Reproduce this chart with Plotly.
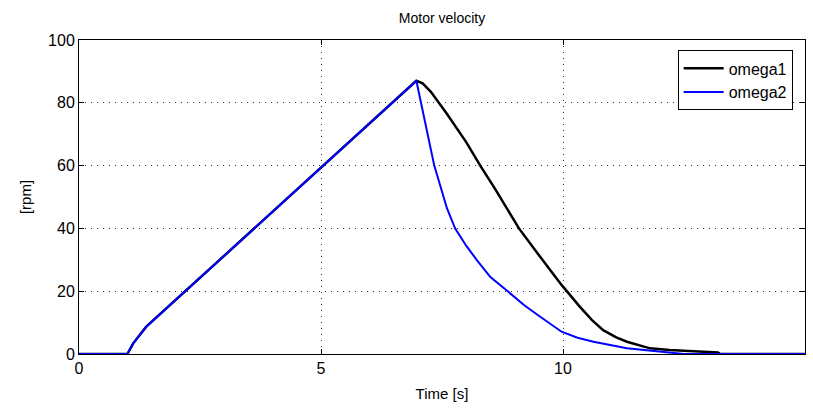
import plotly.graph_objects as go

# omega1 (black)
t1 = [0, 1.0, 1.12, 1.22, 1.39, 6.97, 7.1, 7.27, 7.6, 8.0, 8.29, 8.6, 9.09, 9.5, 9.97, 10.35, 10.6, 10.83, 11.1, 11.32, 11.8, 12.2, 12.6, 13.2, 13.25, 15]
w1 = [0, 0, 3.4, 5.5, 8.7, 87, 86.2, 83.5, 76.5, 67.5, 60, 52.5, 40, 31.5, 22, 15, 10.8, 7.6, 5.3, 3.9, 1.8, 1.3, 0.9, 0.5, 0, 0]

# omega2 (blue)
t2 = [0, 1.0, 1.12, 1.22, 1.39, 6.97, 7.08, 7.17, 7.34, 7.46, 7.6, 7.77, 8.0, 8.22, 8.5, 8.87, 9.2, 9.5, 9.97, 10.3, 10.63, 11.32, 12.0, 12.5, 15]
w2 = [0, 0, 3.4, 5.5, 8.7, 87, 79, 72, 60, 53.8, 46.5, 40, 34.5, 29.9, 24.5, 19.8, 15.5, 12.2, 7.1, 5.2, 3.9, 1.8, 0.7, 0, 0]

x_ticks = [0, 5, 10, 15]
y_ticks = [0, 20, 40, 60, 80, 100]

FONT = "Liberation Sans Narrow, Arial Narrow, Liberation Sans, Arial, sans-serif"

fig = go.Figure()
fig.add_trace(go.Scatter(x=t1, y=w1, mode="lines", name="omega1",
                         line=dict(color="black", width=2.5)))
fig.add_trace(go.Scatter(x=t2, y=w2, mode="lines", name="omega2",
                         line=dict(color="#0000FF", width=2)))

axis_common = dict(
    showline=True, linecolor="black", linewidth=1, mirror="ticks",
    ticks="inside", ticklen=5, tickcolor="black", tickwidth=1,
    showgrid=True, gridcolor="#333333", gridwidth=1, griddash="1px,5px",
    zeroline=False, tickfont=dict(family=FONT, size=16, color="black"),
)

fig.update_layout(
    width=813, height=410,
    margin=dict(l=79, r=8, t=40, b=56),
    paper_bgcolor="white", plot_bgcolor="white",
    title=dict(text="Motor velocity", x=0.5, xref="paper", xanchor="center",
               y=0.955, yanchor="middle",
               font=dict(family=FONT, size=14, color="black")),
    xaxis=dict(range=[0, 15], tickvals=x_ticks,
               title=dict(text="Time [s]", standoff=12,
                          font=dict(family=FONT, size=15, color="black")),
               **axis_common),
    yaxis=dict(range=[0, 100], tickvals=y_ticks,
               title=dict(text="[rpm]", standoff=12,
                          font=dict(family=FONT, size=15, color="black")),
               **axis_common),
    legend=dict(x=0.983, y=0.967, xanchor="right", yanchor="top",
                bgcolor="white", bordercolor="black", borderwidth=1,
                font=dict(family=FONT, size=16, color="black"),
                itemwidth=40, tracegroupgap=4),
    showlegend=True,
)

fig.write_html("out.html")
